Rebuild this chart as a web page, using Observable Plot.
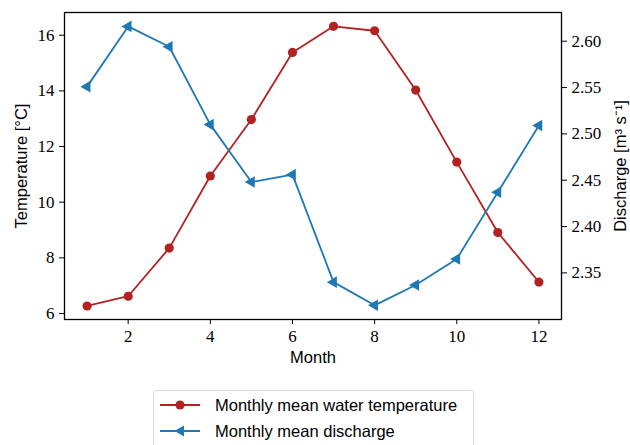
<!DOCTYPE html>
<html><head><meta charset="utf-8">
<script src="https://cdn.jsdelivr.net/npm/d3@7"></script>
<script src="https://cdn.jsdelivr.net/npm/@observablehq/plot@0.6"></script>
<style>
body{margin:0;background:#fff;}
#wrap{position:relative;width:630px;height:445px;overflow:hidden;background:#fff;}
#legend{position:absolute;left:153px;top:390px;width:319px;height:70px;border:1px solid #d9d9d9;border-radius:4px;background:rgba(255,255,255,0.8);font-family:"Liberation Sans",sans-serif;font-size:16.5px;color:#000;}
.row{position:absolute;left:6px;height:20px;display:flex;align-items:center;}
.row svg{display:block;}
.row span{margin-left:15px;white-space:nowrap;}
</style>
</head><body>
<div id="wrap"></div>
<script>
const months = [1, 2, 3, 4, 5, 6, 7, 8, 9, 10, 11, 12];
const temperature = [6.27, 6.62, 8.35, 10.94, 12.97, 15.38, 16.32, 16.16, 14.03, 11.44, 8.91, 7.13];
const discharge = [2.551, 2.616, 2.594, 2.510, 2.448, 2.456, 2.340, 2.315, 2.337, 2.365, 2.437, 2.509];
const xTicks = [2, 4, 6, 8, 10, 12];
const tempTicks = [6, 8, 10, 12, 14, 16];
const dischargeTicks = [2.35, 2.40, 2.45, 2.50, 2.55, 2.60];
const seriesNames = ["Monthly mean water temperature", "Monthly mean discharge"];
const colors = ["#b22222", "#1f77b4"];

const tempDomain = [5.784, 16.816];
const qDomain = [2.2997, 2.631];
const q2t = d3.scaleLinear().domain(qDomain).range(tempDomain);

const rows = months.map((m, i) => ({month: m, temperature: temperature[i], discharge: discharge[i]}));

const serif = "'Liberation Serif', serif";
const sans = "'Liberation Sans', sans-serif";

const chart = Plot.plot({
  width: 630, height: 445,
  marginTop: 12, marginLeft: 64, marginRight: 69, marginBottom: 126,
  x: {domain: [0.45, 12.55]},
  y: {domain: tempDomain},
  style: {fontFamily: serif, fontSize: "17px", color: "#000", background: "transparent"},
  marks: [
    Plot.axisX({ticks: xTicks, tickSize: 5, tickPadding: 5, label: null, fontSize: 17}),
    Plot.axisY({ticks: tempTicks, anchor: "left", tickSize: 5, tickPadding: 5, label: null, fontSize: 17}),
    Plot.axisY(dischargeTicks.map(q2t), {anchor: "right", tickSize: 5, tickPadding: 5, label: null, fontSize: 17,
      tickFormat: d => d3.format(".2f")(q2t.invert(d))}),
    Plot.line(rows, {x: "month", y: "temperature", stroke: colors[0], strokeWidth: 1.8}),
    Plot.dot(rows, {x: "month", y: "temperature", fill: colors[0], r: 4.6}),
    Plot.line(rows, {x: "month", y: d => q2t(d.discharge), stroke: colors[1], strokeWidth: 1.8}),
    Plot.dot(rows, {x: "month", y: d => q2t(d.discharge), symbol: "triangle", rotate: -90, fill: colors[1], r: 4.3}),
    Plot.frame({stroke: "#000", strokeWidth: 1.3}),
    Plot.text(["Month"], {frameAnchor: "bottom", dy: 38, lineAnchor: "middle", textAnchor: "middle", fontFamily: sans, fontSize: 16.5}),
    Plot.text(["Temperature [°C]"], {frameAnchor: "left", rotate: -90, dx: -43, lineAnchor: "middle", textAnchor: "middle", fontFamily: sans, fontSize: 16.5}),
    Plot.text(["Discharge [m³ s⁻¹]"], {frameAnchor: "right", rotate: -90, dx: 59, lineAnchor: "middle", textAnchor: "middle", fontFamily: sans, fontSize: 16.5})
  ]
});

const wrap = document.getElementById("wrap");
wrap.appendChild(chart);

const legend = document.createElement("div");
legend.id = "legend";
const symbols = [
  `<circle cx="20" cy="10" r="4.6" fill="${colors[0]}"/>`,
  `<path d="M14.5,10 L24,4.5 L24,15.5 Z" fill="${colors[1]}"/>`
];
seriesNames.forEach((name, i) => {
  const row = document.createElement("div");
  row.className = "row";
  row.style.top = (4 + i * 26) + "px";
  row.innerHTML = `<svg width="40" height="20"><line x1="0" y1="10" x2="40" y2="10" stroke="${colors[i]}" stroke-width="1.8"/>${symbols[i]}</svg><span>${name}</span>`;
  legend.appendChild(row);
});
wrap.appendChild(legend);
</script>
</body></html>
